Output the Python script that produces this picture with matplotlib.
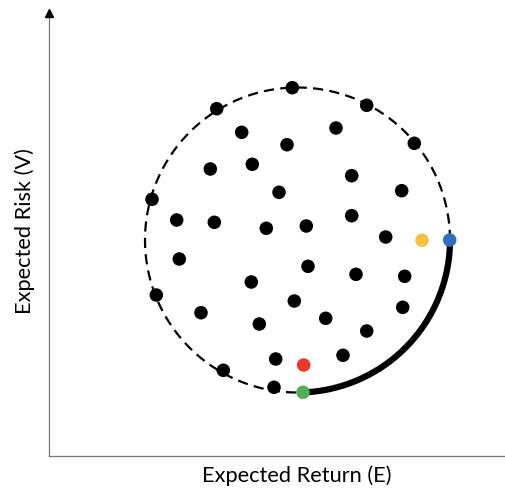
import numpy as np
import matplotlib
matplotlib.use("Agg")
import matplotlib.pyplot as plt

# portfolio cloud (expected return E, expected risk V)
ret = [24.30, 16.74, 31.74, 19.24, 28.67, 23.77, 36.50, 16.10, 20.30, 30.24,
       35.24, 22.97, 10.27, 12.74, 16.50, 21.70, 25.70, 30.24, 33.64, 13.00,
       25.87, 30.67, 35.54, 20.20, 10.70, 24.50, 35.34, 15.17, 21.00, 27.64,
       31.74, 22.64, 29.37, 17.40, 22.47]
risk = [36.83, 34.73, 35.07, 32.37, 32.80, 31.13, 31.27, 28.70, 29.17, 28.03,
        26.53, 26.37, 25.67, 23.60, 23.37, 22.77, 23.00, 24.03, 21.90, 19.70,
        18.97, 18.17, 17.97, 17.40, 16.10, 15.50, 14.87, 14.33, 13.20, 13.77,
        12.50, 9.70, 10.07, 8.57, 6.87]

# highlighted portfolios
spec_ret = [25.44, 37.27, 40.04, 25.37]
spec_risk = [9.10, 21.57, 21.60, 6.37]
spec_col = ['#e8392b', '#f5c242', '#2f6fc0', '#4fae5a']

# boundary of feasible set
cx, cy, r = 24.82, 21.60, 15.25
front_start, front_end = 0.0, -88.0   # degrees, efficient frontier part

plt.rcParams['font.family'] = ['Lato', 'DejaVu Sans']

fig = plt.figure(figsize=(5.05, 4.88), dpi=100)
ax = fig.add_axes([49.3/505, 32/488, (505-49.3)/505, (456-12.7)/488])
ax.set_xlim(0, 45.57)
ax.set_ylim(0, 44.33)

t = np.linspace(0, 2*np.pi, 400)
ax.plot(cx + r*np.cos(t), cy + r*np.sin(t), color='black', lw=1.6,
        linestyle=(0, (4.6, 2.8)), zorder=1)
a = np.radians(np.linspace(front_start, front_end, 200))
ax.plot(cx + r*np.cos(a), cy + r*np.sin(a), color='black', lw=4.5,
        solid_capstyle='butt', zorder=2)

ax.scatter(ret, risk, s=95, color='black', edgecolors='none', zorder=3)
ax.scatter(spec_ret, spec_risk, s=95, c=spec_col, edgecolors='none', zorder=4)

for s in ['top', 'right']:
    ax.spines[s].set_visible(False)
for s in ['left', 'bottom']:
    ax.spines[s].set_color('#777777')
    ax.spines[s].set_linewidth(0.9)
ax.plot([0], [1], marker='^', ms=5.5, color='black', transform=ax.transAxes,
        clip_on=False, zorder=5)
ax.set_xticks([])
ax.set_yticks([])

fig.text(297/505, 1 - 476/488, 'Expected Return (E)', fontsize=15.7,
         ha='center', va='center')
fig.text(25/505, 1 - 231/488, 'Expected Risk (V)', fontsize=15.7,
         ha='center', va='center', rotation=90)

fig.savefig('out.png', dpi=100)
